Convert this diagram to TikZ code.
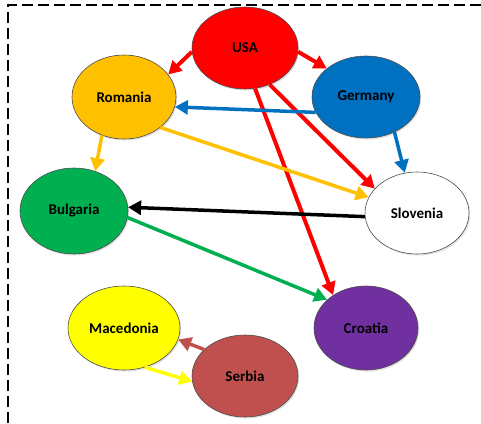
\documentclass[tikz,border=0pt]{standalone}
\usepackage{fontspec}
\setmainfont{Carlito}
\usetikzlibrary{arrows.meta,shapes.geometric,shadows}

\definecolor{usared}{HTML}{FF0000}
\definecolor{romorange}{HTML}{FFC000}
\definecolor{gerblue}{HTML}{0070C0}
\definecolor{bulgreen}{HTML}{00B050}
\definecolor{cropurple}{HTML}{7030A0}
\definecolor{macyellow}{HTML}{FFFF00}
\definecolor{serbrown}{HTML}{C0504D}

\begin{document}
\begin{tikzpicture}[x=1pt, y=-1pt,
    country/.style={ellipse, draw=black!70, line width=0.6pt, inner sep=0pt,
        minimum width=106pt, minimum height=82pt,
        font=\fontsize{15}{17}\selectfont\bfseries,
        drop shadow={shadow xshift=1.2pt, shadow yshift=-1.5pt, opacity=0.25}},
    link/.style={-{Triangle[length=13pt,width=14pt]}, line width=4pt},
    frame/.style={dash pattern=on 11pt off 5pt, line width=1.5pt}
  ]
  \useasboundingbox (0,0) rectangle (481,423);
  \draw[frame] (8,423) -- (8,5) -- (481,5);

  \node[country, fill=usared] (usa) at (245,48) {USA};
  \node[country, fill=romorange, minimum width=104pt, minimum height=84pt] (romania) at (124,97) {Romania};
  \node[country, fill=gerblue, minimum width=108pt] (germany) at (366,97) {Germany};
  \node[country, fill=bulgreen, minimum width=108pt, minimum height=86pt] (bulgaria) at (74,211) {Bulgaria};
  \node[country, fill=white, minimum width=104pt] (slovenia) at (417,213) {Slovenia};
  \node[country, fill=cropurple, minimum width=104pt, minimum height=84pt] (croatia) at (366,328) {Croatia};
  \node[country, fill=macyellow, minimum width=112pt, minimum height=84pt] (macedonia) at (124,328) {Macedonia};
  \node[country, fill=serbrown] (serbia) at (245,376) {Serbia};

  \draw[link, usared] (usa.184) -- (romania.27);
  \draw[link, usared] (usa.356) -- (germany.144);
  \draw[link, usared] (usa.304) -- (slovenia.150);
  \draw[link, usared] (usa.284) -- (croatia.135);
  \draw[link, gerblue, line width=3.5pt] (germany.197) -- (romania.349);
  \draw[link, gerblue, line width=3.5pt] (germany.309) -- (slovenia.107);
  \draw[link, romorange, line width=3.5pt] (romania.240) -- (bulgaria.62);
  \draw[link, romorange, line width=3.5pt] (romania.320) -- (slovenia.162);
  \draw[link, black, line width=3.5pt] (slovenia.184) -- (bulgaria.4);
  \draw[link, bulgreen, line width=3.5pt] (bulgaria.353) -- (croatia.144);
  \draw[link, serbrown, line width=3.5pt] (serbia.147) -- (macedonia.348);
  \draw[link, macyellow, line width=3.5pt] (macedonia.298) -- (serbia.186);
\end{tikzpicture}
\end{document}
